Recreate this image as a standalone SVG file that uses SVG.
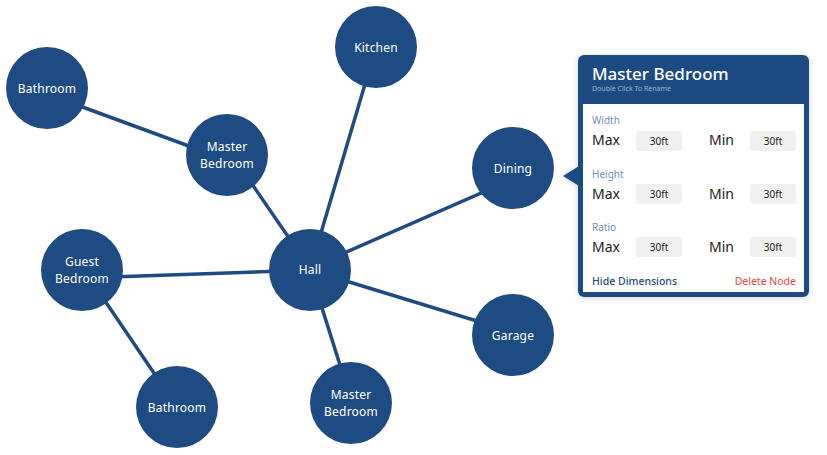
<svg xmlns="http://www.w3.org/2000/svg" width="827" height="455" viewBox="0 0 827 455">
<defs>
<style>
.node{fill:#1e4c82;}
.nt{fill:#ffffff;font-family:"Noto Sans","Liberation Sans",sans-serif;font-size:12px;letter-spacing:0.2px;text-anchor:middle;}
.edge{stroke:#1e4c82;stroke-width:3.5;stroke-linecap:round;fill:none;}
.lbl{fill:#6f8db8;font-family:"Noto Sans","Liberation Sans",sans-serif;font-size:10px;}
.key{fill:#222222;font-family:"Noto Sans","Liberation Sans",sans-serif;font-size:14px;}
.box{fill:#f0f0f0;}
.val{fill:#222222;font-family:"Noto Sans","Liberation Sans",sans-serif;font-size:10px;text-anchor:middle;}
</style>
<filter id="sh" x="-10%" y="-10%" width="120%" height="120%">
<feDropShadow dx="0" dy="1" stdDeviation="3" flood-color="#000000" flood-opacity="0.18"/>
</filter>
</defs>
<rect width="827" height="455" fill="#ffffff"/>
<g id="connectors">
<line class="edge" x1="47" y1="94" x2="227" y2="160"/>
<line class="edge" x1="232" y1="155" x2="311" y2="270"/>
<line class="edge" x1="376" y1="47" x2="310" y2="270"/>
<line class="edge" x1="310" y1="268" x2="513" y2="179"/>
<line class="edge" x1="82" y1="278" x2="310" y2="270"/>
<line class="edge" x1="84" y1="270" x2="177" y2="407"/>
<line class="edge" x1="310" y1="270" x2="352" y2="403"/>
<line class="edge" x1="310" y1="270" x2="513" y2="332"/>
</g>
<g id="node-bathroom-1"><circle class="node" cx="47" cy="88" r="41"/><text class="nt" x="47" y="93">Bathroom</text></g>
<g id="node-master-bedroom-1"><circle class="node" cx="227" cy="155" r="41"/><text class="nt" x="227" y="151">Master</text><text class="nt" x="227" y="168">Bedroom</text></g>
<g id="node-kitchen"><circle class="node" cx="376" cy="47" r="41"/><text class="nt" x="376" y="52">Kitchen</text></g>
<g id="node-dining"><circle class="node" cx="513" cy="168" r="41"/><text class="nt" x="513" y="173">Dining</text></g>
<g id="node-guest-bedroom"><circle class="node" cx="82" cy="270" r="41"/><text class="nt" x="82" y="266">Guest</text><text class="nt" x="82" y="283">Bedroom</text></g>
<g id="node-hall"><circle class="node" cx="310" cy="270" r="41"/><text class="nt" x="310" y="274">Hall</text></g>
<g id="node-garage"><circle class="node" cx="513" cy="335" r="41"/><text class="nt" x="513" y="340">Garage</text></g>
<g id="node-bathroom-2"><circle class="node" cx="177" cy="407" r="41"/><text class="nt" x="177" y="412">Bathroom</text></g>
<g id="node-master-bedroom-2"><circle class="node" cx="351" cy="403" r="41"/><text class="nt" x="351" y="399">Master</text><text class="nt" x="351" y="416">Bedroom</text></g>
<g id="panel">
<g filter="url(#sh)">
<rect x="578" y="55" width="231" height="242" rx="6" fill="#1e4c82"/>
<polygon points="563,176 579,166 579,186" fill="#1e4c82"/>
</g>
<rect x="583" y="104" width="221" height="188" fill="#ffffff"/>
<text x="592" y="80" fill="#ffffff" font-family="Noto Sans, Liberation Sans, sans-serif" font-size="17" font-weight="500">Master Bedroom</text>
<text x="592" y="91" fill="#9fb3cf" font-family="Noto Sans, Liberation Sans, sans-serif" font-size="7">Double Click To Rename</text>
<text class="lbl" x="592" y="124">Width</text>
<text class="key" x="592" y="145">Max</text>
<rect class="box" x="636" y="131" width="46" height="20" rx="3"/>
<text class="val" x="659" y="144.5">30ft</text>
<text class="key" x="709" y="145">Min</text>
<rect class="box" x="750" y="131" width="46" height="20" rx="3"/>
<text class="val" x="773" y="144.5">30ft</text>
<text class="lbl" x="592" y="178">Height</text>
<text class="key" x="592" y="199">Max</text>
<rect class="box" x="636" y="184" width="46" height="20" rx="3"/>
<text class="val" x="659" y="197.5">30ft</text>
<text class="key" x="709" y="199">Min</text>
<rect class="box" x="750" y="184" width="46" height="20" rx="3"/>
<text class="val" x="773" y="197.5">30ft</text>
<text class="lbl" x="592" y="231">Ratio</text>
<text class="key" x="592" y="252">Max</text>
<rect class="box" x="636" y="237" width="46" height="20" rx="3"/>
<text class="val" x="659" y="250.5">30ft</text>
<text class="key" x="709" y="252">Min</text>
<rect class="box" x="750" y="237" width="46" height="20" rx="3"/>
<text class="val" x="773" y="250.5">30ft</text>
<text x="592" y="285" fill="#1e4c82" font-family="Noto Sans, Liberation Sans, sans-serif" font-size="10.5" font-weight="500">Hide Dimensions</text>
<text x="796" y="285" fill="#e8453c" font-family="Noto Sans, Liberation Sans, sans-serif" font-size="10.5" text-anchor="end">Delete Node</text>
</g>
</svg>
